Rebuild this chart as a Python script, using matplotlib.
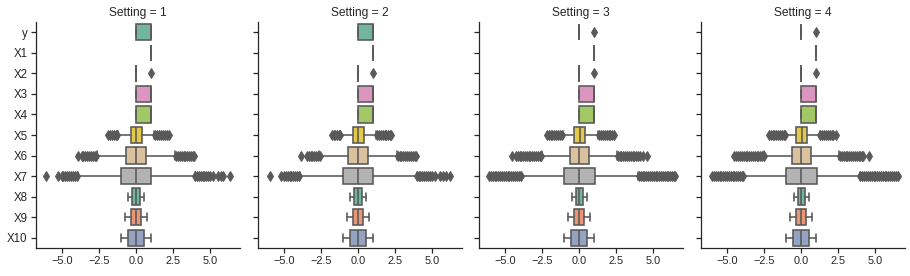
import matplotlib
matplotlib.use("Agg")
import matplotlib.pyplot as plt
import seaborn as sns
import colorsys

# Box summaries, one entry per variable
variables = ["y", "X1", "X2", "X3", "X4", "X5", "X6", "X7", "X8", "X9", "X10"]
settings = [1, 2, 3, 4]

# settings 1 and 2
q1_a = [0, 1, 0, 0, 0, -0.37, -0.69, -1.03, -0.27, -0.36, -0.53]
med_a = [1, 1, 0, 1, 1, 0, 0, 0, 0, 0, 0]
q3_a = [1, 1, 0, 1, 1, 0.37, 0.67, 1.0, 0.27, 0.35, 0.52]
lo_a = [0, 1, 0, 0, 0, -1.2, -2.62, -3.9, -0.52, -0.72, -1.0]
hi_a = [1, 1, 0, 1, 1, 1.22, 2.62, 3.95, 0.52, 0.7, 1.0]

# settings 3 and 4
q1_b = [0, 1, 0, 0, 0, -0.32, -0.65, -1.05, -0.22, -0.36, -0.53]
med_b = [0, 1, 0, 1, 1, 0.03, -0.02, 0, 0.02, 0, 0]
q3_b = [0, 1, 0, 1, 1, 0.4, 0.65, 1.05, 0.27, 0.36, 0.52]
lo_b = [0, 1, 0, 0, 0, -1.12, -2.52, -3.9, -0.51, -0.74, -0.99]
hi_b = [0, 1, 0, 1, 1, 1.3, 2.55, 4.0, 0.54, 0.72, 1.0]

# outliers per setting (only variables that have any)
fliers_s1 = {
    "X2": [1],
    "X5": [-1.87, -1.75, -1.62, -1.5, -1.38, -1.28, 1.3, 1.42, 1.55, 1.68, 1.8, 1.93, 2.05, 2.2],
    "X6": [-3.92, -3.67, -3.55, -3.42, -3.3, -3.18, -3.05, -2.92, -2.8, -2.68,
           2.7, 2.82, 2.95, 3.08, 3.2, 3.32, 3.45, 3.58, 3.7, 3.82, 3.92],
    "X7": [-6.08, -5.3, -5.02, -4.9, -4.78, -4.65, -4.52, -4.4, -4.28, -4.15, -4.02,
           3.98, 4.1, 4.22, 4.35, 4.48, 4.6, 4.72, 4.85, 4.98, 5.18, 5.55, 5.7, 5.86, 6.3],
}
fliers_s2 = {
    "X2": [1],
    "X5": [-1.78, -1.66, -1.54, -1.42, -1.3, -1.2, 1.27, 1.4, 1.52, 1.65, 1.78, 1.9, 2.02, 2.15, 2.22],
    "X6": [-3.83, -3.45, -3.32, -3.2, -3.08, -2.95, -2.82, -2.7, -2.6,
           2.67, 2.8, 2.92, 3.05, 3.18, 3.3, 3.42, 3.55, 3.68, 3.8, 3.89],
    "X7": [-5.93, -5.2, -5.0, -4.88, -4.75, -4.62, -4.5, -4.38, -4.25, -4.12, -4.0,
           3.95, 4.08, 4.2, 4.32, 4.45, 4.58, 4.7, 4.82, 4.95, 5.15, 5.5, 5.7, 5.9, 6.2],
}
fliers_s3 = {
    "y": [1],
    "X2": [1],
    "X5": [-2.18, -2.05, -1.92, -1.8, -1.68, -1.55, -1.42, -1.3, -1.18,
           1.35, 1.48, 1.6, 1.72, 1.85, 1.98, 2.1, 2.22, 2.35],
    "X6": [-4.55, -4.28, -4.15, -4.02, -3.9, -3.78, -3.65, -3.52, -3.4, -3.28, -3.15,
           -3.02, -2.9, -2.78, -2.65, -2.55,
           2.59, 2.72, 2.85, 2.98, 3.1, 3.22, 3.35, 3.48, 3.6, 3.72, 3.85, 3.98, 4.1, 4.28, 4.57],
    "X7": [-6.08, -5.95, -5.82, -5.7, -5.58, -5.45, -5.32, -5.2, -5.08, -4.95, -4.82,
           -4.7, -4.58, -4.45, -4.32, -4.2, -4.08, -3.95,
           4.02, 4.15, 4.28, 4.4, 4.52, 4.65, 4.78, 4.9, 5.02, 5.15, 5.28, 5.4, 5.52,
           5.65, 5.78, 5.9, 6.02, 6.15, 6.28, 6.4, 6.48],
}
fliers_s4 = {
    "y": [1],
    "X2": [1],
    "X5": [-2.16, -2.04, -1.92, -1.8, -1.68, -1.55, -1.42, -1.3, -1.18, -1.1,
           1.3, 1.42, 1.55, 1.68, 1.8, 1.92, 2.05, 2.18, 2.34],
    "X6": [-4.5, -4.38, -4.25, -4.12, -4.0, -3.88, -3.75, -3.62, -3.5, -3.38, -3.25,
           -3.12, -3.0, -2.88, -2.75, -2.62, -2.5,
           2.64, 2.76, 2.88, 3.0, 3.12, 3.25, 3.38, 3.5, 3.62, 3.75, 3.88, 4.0, 4.1, 4.2, 4.6],
    "X7": [-5.99, -5.87, -5.75, -5.62, -5.5, -5.38, -5.25, -5.12, -5.0, -4.88, -4.75,
           -4.62, -4.5, -4.38, -4.25, -4.12, -4.0, -3.92,
           4.0, 4.12, 4.25, 4.38, 4.5, 4.62, 4.75, 4.88, 5.0, 5.12, 5.25, 5.38, 5.5,
           5.62, 5.75, 5.88, 6.0, 6.12, 6.25, 6.38, 6.53],
}

summaries = [
    (q1_a, med_a, q3_a, lo_a, hi_a, fliers_s1),
    (q1_a, med_a, q3_a, lo_a, hi_a, fliers_s2),
    (q1_b, med_b, q3_b, lo_b, hi_b, fliers_s3),
    (q1_b, med_b, q3_b, lo_b, hi_b, fliers_s4),
]

sns.set_theme(style="ticks")
plt.rcParams["font.family"] = ["Liberation Sans", "DejaVu Sans"]
plt.rcParams["ytick.major.size"] = 5
plt.rcParams["xtick.major.size"] = 5

colors = sns.color_palette("Set2", len(variables), desat=0.75)
lum = min(colorsys.rgb_to_hls(*c)[1] for c in colors) * 0.6
gray = (lum, lum, lum)

fig = plt.figure(figsize=(910 / 72, 276 / 72), dpi=72)
W, H = 910.0, 276.0
lefts = [36, 258, 479, 701]
axes = []
for i, setting in enumerate(settings):
    ax = fig.add_axes([lefts[i] / W, 28 / H, 204 / W, 226 / H],
                      sharex=axes[0] if axes else None,
                      sharey=axes[0] if axes else None)
    axes.append(ax)
    q1, med, q3, lo, hi, fl = summaries[i]
    stats = []
    for j, name in enumerate(variables):
        stats.append(dict(q1=q1[j], med=med[j], q3=q3[j], whislo=lo[j],
                          whishi=hi[j], fliers=fl.get(name, []), label=name))
    bp = ax.bxp(stats, positions=range(len(variables)), widths=0.8,
                vert=False, patch_artist=True, showfliers=True,
                boxprops=dict(edgecolor=gray, linewidth=1.6),
                medianprops=dict(color=gray, linewidth=1.6),
                whiskerprops=dict(color=gray, linewidth=1.6),
                capprops=dict(color=gray, linewidth=1.6),
                flierprops=dict(marker="d", markersize=6.5, markerfacecolor=gray,
                                markeredgecolor=gray, linestyle="none"))
    for box, c in zip(bp["boxes"], colors):
        box.set_facecolor(c)
    ax.set_title(f"Setting = {setting}", fontsize=12)
    sns.despine(ax=ax)
    if i > 0:
        ax.tick_params(axis="y", labelleft=False)

axes[0].set_yticks(range(len(variables)))
axes[0].set_yticklabels(variables, fontsize=11.5)
axes[0].set_ylim(len(variables) - 0.5, -0.5)
axes[0].set_xlim(-6.75, 7.0)
axes[0].set_xticks([-5, -2.5, 0, 2.5, 5])
axes[0].set_xticklabels(["\u22125.0", "\u22122.5", "0.0", "2.5", "5.0"])

fig.savefig("out.png", dpi=72)
